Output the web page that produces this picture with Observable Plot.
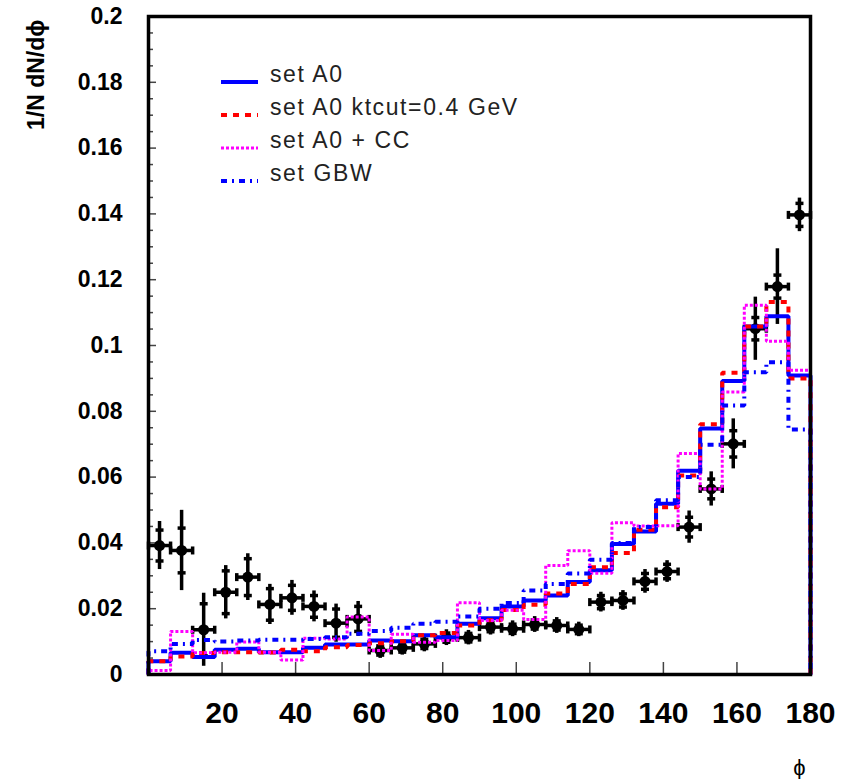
<!DOCTYPE html>
<html>
<head>
<meta charset="utf-8">
<script src="https://cdn.jsdelivr.net/npm/d3@7"></script>
<script src="https://cdn.jsdelivr.net/npm/@observablehq/plot@0.6"></script>
<style>
  body { margin: 0; background: #fff; }
  #wrap { position: relative; width: 847px; height: 779px; }
  #legend { position: absolute; left: 220px; top: 58px; font-family: "Liberation Sans", Arial, sans-serif; font-size: 23px; letter-spacing: 1.6px; color: #222; }
  .row { position: relative; height: 33px; display: flex; align-items: center; }
  .row svg { display: block; width: 50px; height: 33px; flex: none; }
  .row span { white-space: nowrap; line-height: 33px; }
</style>
</head>
<body>
<div id="wrap">
  <div id="chart"></div>
  <div id="legend"></div>
</div>
<script>
// ---------- data ----------
const binWidth = 6;
const phiCenters = [3, 9, 15, 21, 27, 33, 39, 45, 51, 57, 63, 69, 75, 81, 87, 93, 99, 105, 111, 117, 123, 129, 135, 141, 147, 153, 159, 165, 171, 177];

const seriesNames = ["set A0", "set A0 ktcut=0.4 GeV", "set A0 + CC", "set GBW"];

const setA0 = [0.0040, 0.0066, 0.0053, 0.0075, 0.0078, 0.0068, 0.0068, 0.0081, 0.0091, 0.0091,
  0.0103, 0.0101, 0.0119, 0.0113, 0.0154, 0.0171, 0.0207, 0.0225, 0.0240, 0.0281,
  0.0317, 0.0397, 0.0435, 0.0519, 0.0619, 0.0748, 0.0892, 0.1058, 0.1089, 0.0909];

const setA0ktcut = [0.0040, 0.0055, 0.0065, 0.0068, 0.0068, 0.0067, 0.0075, 0.0071, 0.0083, 0.0090,
  0.0095, 0.0101, 0.0119, 0.0126, 0.0149, 0.0165, 0.0196, 0.0212, 0.0246, 0.0275,
  0.0326, 0.0369, 0.0440, 0.0508, 0.0605, 0.0761, 0.0917, 0.1058, 0.1132, 0.0900];

const setA0CC = [0.0012, 0.0131, 0.0066, 0.0068, 0.0099, 0.0068, 0.0044, 0.0110, 0.0108, 0.0175,
  0.0073, 0.0122, 0.0098, 0.0103, 0.0218, 0.0164, 0.0195, 0.0167, 0.0331, 0.0376,
  0.0308, 0.0461, 0.0451, 0.0452, 0.0672, 0.0564, 0.0859, 0.1122, 0.1013, 0.0925];

const setGBW = [0.0071, 0.0093, 0.0105, 0.0100, 0.0103, 0.0106, 0.0106, 0.0108, 0.0113, 0.0124,
  0.0132, 0.0142, 0.0154, 0.0160, 0.0176, 0.0200, 0.0217, 0.0255, 0.0275, 0.0307,
  0.0349, 0.0400, 0.0448, 0.0530, 0.0600, 0.0698, 0.0818, 0.0919, 0.0949, 0.0745];

const dataY = [0.0392, 0.0377, 0.0136, 0.0250, 0.0296, 0.0213, 0.0233, 0.0207, 0.0156, 0.0169,
  0.0073, 0.0081, 0.0093, 0.0112, 0.0112, 0.0144, 0.0139, 0.0152, 0.0149, 0.0137,
  0.0220, 0.0225, 0.0283, 0.0313, 0.0448, 0.0564, 0.0701, 0.1051, 0.1179, 0.1397];
const dataErrTot = [0.0073, 0.0122, 0.0111, 0.0081, 0.0071, 0.0061, 0.0053, 0.0047, 0.0058, 0.0053,
  0.0024, 0.0022, 0.0024, 0.0024, 0.0022, 0.0024, 0.0024, 0.0024, 0.0024, 0.0022,
  0.0030, 0.0030, 0.0036, 0.0033, 0.0049, 0.0052, 0.0076, 0.0096, 0.0115, 0.0051];
const dataErrStat = [0.0047, 0.0068, 0.0079, 0.0065, 0.0056, 0.0048, 0.0038, 0.0033, 0.0043, 0.0038,
  0.0014, 0.0013, 0.0014, 0.0014, 0.0013, 0.0014, 0.0014, 0.0014, 0.0014, 0.0013,
  0.0020, 0.0020, 0.0024, 0.0022, 0.0030, 0.0030, 0.0040, 0.0034, 0.0035, 0.0035];

const xTickValues = [20, 40, 60, 80, 100, 120, 140, 160, 180];
const yTickValues = [0, 0.02, 0.04, 0.06, 0.08, 0.1, 0.12, 0.14, 0.16, 0.18, 0.2];
const yTickLabels = ["0", "0.02", "0.04", "0.06", "0.08", "0.1", "0.12", "0.14", "0.16", "0.18", "0.2"];
const yMinorStep = 0.005;
const yTitle = "1/N dN/dϕ";
const xTitle = "ϕ";

// ---------- styles ----------
const styles = [
  {stroke: "#0000ff", strokeWidth: 4, dash: null},
  {stroke: "#ff0000", strokeWidth: 4, dash: "6,6"},
  {stroke: "#ff00ff", strokeWidth: 3, dash: "3,2"},
  {stroke: "#0000ff", strokeWidth: 4, dash: "6,5,2,5"}
];

// ---------- helpers ----------
function steps(vals) {
  const pts = [{x: phiCenters[0] - binWidth / 2, y: 0}];
  vals.forEach((v, i) => {
    pts.push({x: phiCenters[i] - binWidth / 2, y: v});
    pts.push({x: phiCenters[i] + binWidth / 2, y: v});
  });
  pts.push({x: phiCenters[vals.length - 1] + binWidth / 2, y: 0});
  return pts;
}
const hbar = {draw(ctx, size) { const r = Math.sqrt(size / Math.PI); ctx.moveTo(-r, 0); ctx.lineTo(r, 0); }};
const vbar = {draw(ctx, size) { const r = Math.sqrt(size / Math.PI); ctx.moveTo(0, -r); ctx.lineTo(0, r); }};

const pts = phiCenters.map((x, i) => ({x, y: dataY[i], et: dataErrTot[i], es: dataErrStat[i]}));
const statTicks = pts.flatMap(d => [{x: d.x, y: d.y - d.es}, {x: d.x, y: d.y + d.es}]);
const xCaps = pts.flatMap(d => [{x: d.x - binWidth / 2, y: d.y}, {x: d.x + binWidth / 2, y: d.y}]);

const yMinor = d3.range(0, Math.round(0.2 / yMinorStep) + 1).map(i => +(i * yMinorStep).toFixed(4))
  .filter(v => !yTickValues.some(t => Math.abs(t - v) < 1e-9));
const seriesVals = [setA0, setA0ktcut, setA0CC, setGBW];

const chart = Plot.plot({
  width: 847,
  height: 779,
  marginLeft: 148,
  marginRight: 37,
  marginTop: 16,
  marginBottom: 105,
  x: {domain: [0, 180], label: null},
  y: {domain: [0, 0.2], label: null},
  style: {background: "white", fontFamily: "'Liberation Sans', Arial, sans-serif", overflow: "visible"},
  marks: [
    // y ticks (inside)
    Plot.axisY({ticks: yMinor, tickSize: -5, tickFormat: () => "", label: null, stroke: "#444", strokeWidth: 1.5}),
    Plot.axisY({ticks: yTickValues.slice(1, -1), tickSize: -8, tickFormat: () => "", label: null, stroke: "#444", strokeWidth: 1.5}),
    Plot.axisY({ticks: yTickValues, tickSize: 0, tickPadding: 26, tickFormat: (d) => yTickLabels[yTickValues.indexOf(d)], label: null,
      fontSize: 23, fontWeight: "bold", fill: "black"}),
    // x ticks (inside)
    Plot.axisX({ticks: xTickValues.slice(0, -1), tickSize: -12, tickFormat: () => "", label: null, stroke: "#444", strokeWidth: 1.5}),
    Plot.axisX({ticks: xTickValues, tickSize: 0, tickPadding: 27, label: null,
      fontSize: 30, fontWeight: "bold", fill: "black", fontFamily: "'Liberation Sans Narrow', 'Arial Narrow', 'Liberation Sans', sans-serif"}),
    // data
    Plot.ruleY(pts, {y: "y", x1: d => d.x - binWidth / 2, x2: d => d.x + binWidth / 2, stroke: "black", strokeWidth: 3.5}),
    Plot.ruleX(pts, {x: "x", y1: d => d.y - d.et, y2: d => d.y + d.et, stroke: "black", strokeWidth: 3.5}),
    Plot.dot(statTicks, {x: "x", y: "y", symbol: hbar, r: 4, stroke: "black", fill: "none", strokeWidth: 3.5}),
    Plot.dot(xCaps, {x: "x", y: "y", symbol: vbar, r: 4, stroke: "black", fill: "none", strokeWidth: 3.5}),
    Plot.dot(pts, {x: "x", y: "y", r: 5.5, fill: "black", stroke: "none"}),
    // histograms
    ...seriesVals.map((vals, k) => Plot.line(steps(vals), {
      x: "x", y: "y", stroke: styles[k].stroke, strokeWidth: styles[k].strokeWidth,
      strokeDasharray: styles[k].dash, strokeLinecap: "butt", strokeLinejoin: "miter"
    })),
    // titles
    Plot.text([yTitle], {text: d => d, frameAnchor: "top-left", rotate: -90, textAnchor: "end", lineAnchor: "middle",
      dx: -112, dy: 3, fontSize: 23, fontWeight: "bold", fill: "black"}),
    Plot.text([xTitle], {text: d => d, frameAnchor: "bottom-right", dx: -5, dy: 100, fontSize: 22, fill: "black"}),
    Plot.frame({stroke: "black", strokeWidth: 3.5})
  ]
});
document.getElementById("chart").appendChild(chart);

// legend
const legend = d3.select("#legend");
seriesNames.forEach((name, k) => {
  const row = legend.append("div").attr("class", "row");
  const svg = row.append("svg").attr("width", 50).attr("height", 33);
  svg.append("line").attr("x1", 1).attr("x2", 38).attr("y1", 24).attr("y2", 24)
    .attr("stroke", styles[k].stroke).attr("stroke-width", styles[k].strokeWidth)
    .attr("stroke-dasharray", styles[k].dash);
  row.append("span").text(name);
});
</script>
</body>
</html>
